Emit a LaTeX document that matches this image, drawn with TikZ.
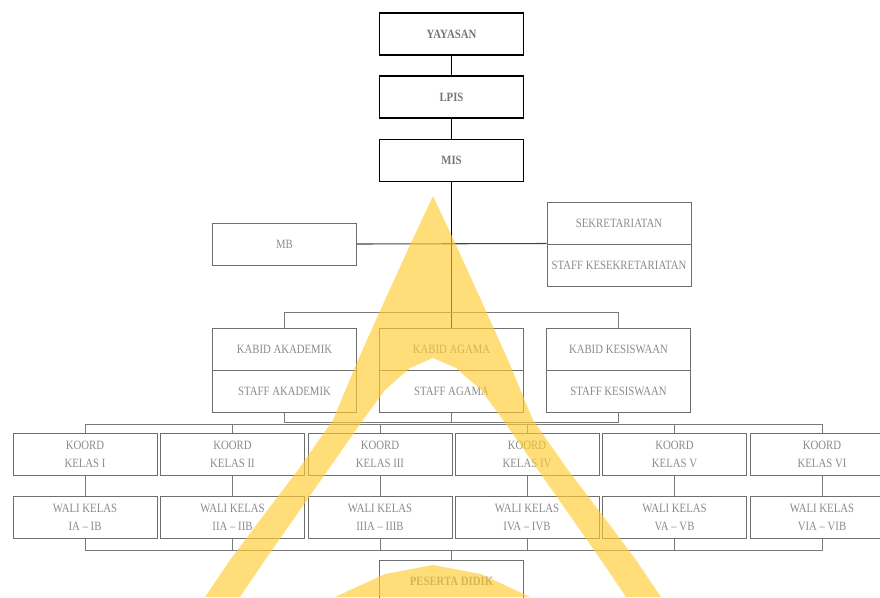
\documentclass[tikz,border=0pt]{standalone}
\usepackage{fontspec}
\setmainfont{Liberation Serif}[FakeStretch=0.85]
\usepackage{tikz}
\usetikzlibrary{positioning}
\definecolor{boxGray}{HTML}{6E6E6E}
\definecolor{textGray}{HTML}{8A8A8A}
\definecolor{lineGray}{HTML}{7A7A7A}
\definecolor{darkLine}{HTML}{444444}
\definecolor{wmYellow}{HTML}{FFCC33}
\tikzset{org/.style={draw=boxGray, line width=.75pt, minimum width=108pt,
  minimum height=31.5pt, inner sep=0pt, text=textGray, align=center,
  font=\fontsize{9.5}{13.5}\selectfont}}
\tikzset{orghead/.style={org, draw=black, line width=1.1pt, text=textGray!85!black,
  font=\bfseries\fontsize{9.5}{13.5}\selectfont}}
\tikzset{gl/.style={draw, lineGray, line width=.75pt}}
\tikzset{dl/.style={draw, darkLine, line width=.8pt}}
\tikzset{kl/.style={draw, black, line width=1pt}}

\begin{document}
\begin{tikzpicture}[x=.75pt, y=-.75pt]
        \useasboundingbox (0,0) rectangle (880,597);
        %% pimpinan
        \node (yay) at (451.5,34) [orghead] {YAYASAN};
        \node (lpis) at (451.5,97) [orghead] {LPIS};
        \node (mis) at (451.5,160.5) [orghead] {MIS};
        \node (mb) at (284.5,244) [org] {MB};
        \node (sek) at (619,223) [org] {SEKRETARIATAN};
        \node (staffsek) at (619,265) [org] {STAFF KESEKRETARIATAN};
        %% kabid
        \node (kakad) at (284.5,349) [org] {KABID AKADEMIK};
        \node (stakad) at (284.5,391) [org] {STAFF AKADEMIK};
        \node (kagama) at (451.5,349) [org] {KABID AGAMA};
        \node (stagama) at (451.5,391) [org] {STAFF AGAMA};
        \node (kakes) at (618.5,349) [org] {KABID KESISWAAN};
        \node (stakes) at (618.5,391) [org] {STAFF KESISWAAN};
        %% koord kelas
        \node (ko1) at (85,454) [org] {KOORD\\KELAS I};
        \node (ko2) at (232.5,454) [org] {KOORD\\KELAS II};
        \node (ko3) at (380,454) [org] {KOORD\\KELAS III};
        \node (ko4) at (527,454) [org] {KOORD\\KELAS IV};
        \node (ko5) at (674.5,454) [org] {KOORD\\KELAS V};
        \node (ko6) at (822,454) [org] {KOORD\\KELAS VI};
        %% wali kelas
        \node (wa1) at (85,517) [org] {WALI KELAS\\IA \textendash\ IB};
        \node (wa2) at (232.5,517) [org] {WALI KELAS\\IIA \textendash\ IIB};
        \node (wa3) at (380,517) [org] {WALI KELAS\\IIIA \textendash\ IIIB};
        \node (wa4) at (527,517) [org] {WALI KELAS\\IVA \textendash\ IVB};
        \node (wa5) at (674.5,517) [org] {WALI KELAS\\VA \textendash\ VB};
        \node (wa6) at (822,517) [org] {WALI KELAS\\VIA \textendash\ VIB};
        \node (pd) at (451.5,581) [org, font=\bfseries\fontsize{9.5}{13.5}\selectfont] {PESERTA DIDIK};
        %% garis
        \coordinate (br) at (451.5,312);
        \coordinate (sj) at (451.5,422);
        \coordinate (kj) at (451.5,424.5);
        \coordinate (wj) at (451.5,550);
        \draw [kl] (yay) to (lpis);
        \draw [kl] (lpis) to (mis);
        \draw [kl] (mis) to (kagama);
        \draw [dl] (mb.east) to (staffsek.north west);
        \draw [gl] (kakad.north) |- (br) -| (kakes.north);
        \draw [gl] (stakad.south) |- (sj) -| (stakes.south);
        \draw [gl] (stagama) to (sj);
        \draw [gl] (ko1.north) |- (kj) -| (ko6.north);
        \draw [gl] (ko2.north) to (ko2.north |- kj);
        \draw [gl] (ko3.north) to (ko3.north |- kj);
        \draw [gl] (ko4.north) to (ko4.north |- kj);
        \draw [gl] (ko5.north) to (ko5.north |- kj);
        \draw [gl] (ko1) to (wa1);
        \draw [gl] (ko2) to (wa2);
        \draw [gl] (ko3) to (wa3);
        \draw [gl] (ko4) to (wa4);
        \draw [gl] (ko5) to (wa5);
        \draw [gl] (ko6) to (wa6);
        \draw [gl] (wa1.south) |- (wj) -| (wa6.south);
        \draw [gl] (wa2.south) to (wa2.south |- wj);
        \draw [gl] (wa3.south) to (wa3.south |- wj);
        \draw [gl] (wa4.south) to (wa4.south |- wj);
        \draw [gl] (wa5.south) to (wa5.south |- wj);
        \draw [gl] (wj) to (pd);
        %% watermark
        \fill [wmYellow, opacity=.65, even odd rule]
            (433,196) -- (410,245) -- (385,300) -- (358,360) -- (333,420)
            -- (298,470) -- (260,520) -- (230,560) -- (205,597)
            -- (661,597) -- (636,560) -- (606,520) -- (568,470) -- (533,420)
            -- (508,360) -- (481,300) -- (456,245) -- cycle
            (433,358) -- (410,368) -- (385,390) -- (363,420) -- (328,470)
            -- (293,520) -- (265,560) -- (240,597) -- (626,597) -- (601,560)
            -- (573,520) -- (538,470) -- (503,420) -- (481,390) -- (456,368) -- cycle
            (335,597) -- (385,574) -- (433,565) -- (481,574) -- (530,597) -- cycle;
\end{tikzpicture}
\end{document}
